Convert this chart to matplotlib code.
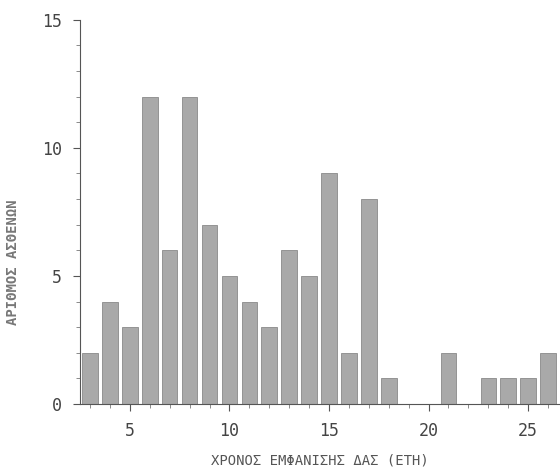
import matplotlib.pyplot as plt
from matplotlib.ticker import MultipleLocator

years = [3, 4, 5, 6, 7, 8, 9, 10, 11, 12, 13, 14, 15, 16, 17, 18, 19, 20, 21, 22, 23, 24, 25, 26]
patients = [2, 4, 3, 12, 6, 12, 7, 5, 4, 3, 6, 5, 9, 2, 8, 1, 0, 0, 2, 0, 1, 1, 1, 2]

fig = plt.figure(figsize=(5.6, 4.73), dpi=100)
ax = fig.add_axes([0.143, 0.146, 0.857, 0.812])

ax.bar(years, patients, width=0.78, color='#a9a9a9', edgecolor='#8a8a8a', linewidth=0.6)

ax.set_xlim(2.5, 26.6)
ax.set_ylim(0, 15)
ax.set_yticks([0, 5, 10, 15])
ax.yaxis.set_minor_locator(MultipleLocator(1))
ax.set_xticks([5, 10, 15, 20, 25])
ax.xaxis.set_minor_locator(MultipleLocator(1))

for side in ['top', 'right']:
    ax.spines[side].set_visible(False)
ax.spines['left'].set_color('#555555')
ax.spines['bottom'].set_color('#555555')
ax.spines['left'].set_linewidth(0.8)
ax.spines['bottom'].set_linewidth(0.8)

ax.tick_params(axis='both', which='major', length=5, color='#555555', labelsize=12,
               labelcolor='#444444', pad=8)
ax.tick_params(axis='both', which='minor', length=3, color='#777777')

for lab in ax.get_xticklabels() + ax.get_yticklabels():
    lab.set_family('DejaVu Sans Mono')

ax.set_xlabel('ΧΡΟΝΟΣ ΕΜΦΑΝΙΣΗΣ ΔΑΣ (ΕΤΗ)', family='DejaVu Sans Mono', fontsize=10,
              color='#555555', labelpad=10)
ax.set_ylabel('ΑΡΙΘΜΟΣ ΑΣΘΕΝΩΝ', family='DejaVu Sans Mono', fontsize=10,
              color='#777777', fontweight='bold')
ax.yaxis.set_label_coords(-0.125, 0.37)

fig.savefig('out.png', dpi=100)
